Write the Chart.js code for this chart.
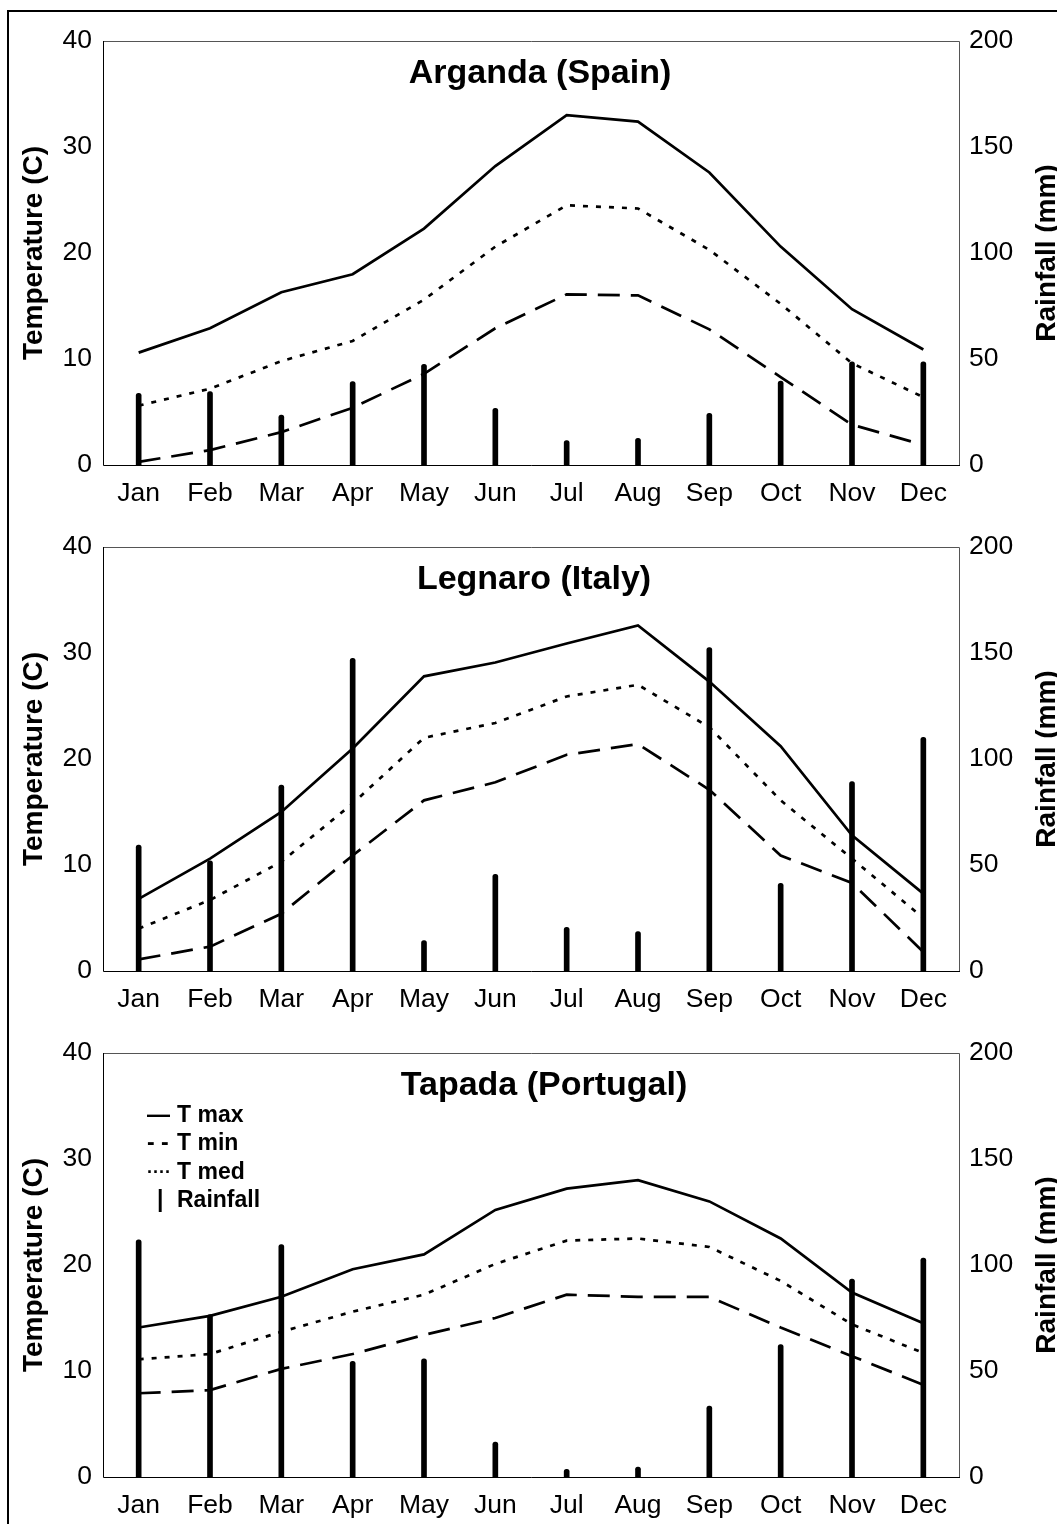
<!DOCTYPE html>
<html>
<head>
<meta charset="utf-8">
<script src="https://cdn.jsdelivr.net/npm/chart.js@4.4.1/dist/chart.umd.min.js"></script>
<style>
html,body{margin:0;padding:0;background:#fff;}
#wrap{position:relative;width:1057px;height:1524px;overflow:hidden;background:#fff;}
#frame{position:absolute;left:7px;top:10px;width:1200px;height:1700px;border:2.5px solid #000;box-sizing:border-box;}
canvas{position:absolute;left:0;}
</style>
</head>
<body>
<div id="wrap">
  <div id="frame"></div>
  <canvas id="c1" width="1057" height="506" style="top:0px"></canvas>
  <canvas id="c2" width="1057" height="506" style="top:506px"></canvas>
  <canvas id="c3" width="1057" height="506" style="top:1012px"></canvas>
</div>
<script>
// ---------- data ----------
const months = ['Jan','Feb','Mar','Apr','May','Jun','Jul','Aug','Sep','Oct','Nov','Dec'];
const tempTicks = [0, 10, 20, 30, 40];
const rainTicks = [0, 50, 100, 150, 200];

const siteNames = ['Arganda (Spain)', 'Legnaro (Italy)', 'Tapada (Portugal)'];

const argandaTmax = [10.6, 12.9, 16.3, 18.0, 22.3, 28.2, 33.0, 32.4, 27.6, 20.6, 14.7, 10.9];
const argandaTmin = [0.3, 1.4, 3.1, 5.4, 8.6, 12.9, 16.1, 16.0, 12.8, 8.3, 3.8, 1.9];
const argandaTmed = [5.6, 7.2, 9.8, 11.7, 15.6, 20.6, 24.5, 24.2, 20.3, 15.2, 9.6, 6.4];
const argandaRain = [33.8, 34.6, 23.6, 39.3, 47.5, 26.7, 11.5, 12.6, 24.4, 39.6, 48.7, 48.7];

const legnaroTmax = [6.8, 10.6, 15.0, 21.0, 27.8, 29.1, 30.9, 32.6, 27.3, 21.2, 12.8, 7.3];
const legnaroTmin = [1.1, 2.3, 5.4, 10.9, 16.1, 17.8, 20.4, 21.4, 17.1, 10.9, 8.3, 1.8];
const legnaroTmed = [4.0, 6.7, 10.3, 15.8, 22.0, 23.4, 25.9, 27.0, 23.0, 16.1, 10.6, 5.0];
const legnaroRain = [59.4, 52.0, 87.7, 147.5, 14.3, 45.6, 20.6, 18.6, 152.5, 41.4, 89.3, 110.2];

const tapadaTmax = [14.1, 15.2, 17.0, 19.6, 21.0, 25.2, 27.2, 28.0, 26.0, 22.5, 17.4, 14.5];
const tapadaTmin = [7.9, 8.2, 10.2, 11.6, 13.4, 15.0, 17.2, 17.0, 17.0, 14.1, 11.4, 8.7];
const tapadaTmed = [11.1, 11.6, 13.7, 15.6, 17.2, 20.1, 22.3, 22.5, 21.7, 18.5, 14.4, 11.7];
const tapadaRain = [111.9, 76.6, 109.6, 54.6, 55.7, 16.5, 3.6, 4.7, 33.4, 62.5, 93.4, 103.3];

const legendSymbols = ['\u2014', '- -', '\u00B7\u00B7\u00B7\u00B7', '|'];
const legendLabels = ['T max', 'T min', 'T med', 'Rainfall'];

// ---------- rendering ----------
const FONT = "'Liberation Sans', Arial, Helvetica, sans-serif";
Chart.defaults.font.family = FONT;
Chart.defaults.color = '#000';

const decor = {
  id: 'decor',
  beforeDatasetsDraw(chart) {
    const {ctx, chartArea: a} = chart;
    ctx.save();
    ctx.lineWidth = 1;
    ctx.strokeStyle = '#555';
    ctx.beginPath();
    ctx.moveTo(a.left, a.top + 0.5);
    ctx.lineTo(a.right + 0.5, a.top + 0.5);
    ctx.lineTo(a.right + 0.5, a.bottom);
    ctx.stroke();
    ctx.strokeStyle = '#000';
    ctx.beginPath();
    ctx.moveTo(a.left + 0.5, a.top);
    ctx.lineTo(a.left + 0.5, a.bottom + 0.5);
    ctx.lineTo(a.right + 1, a.bottom + 0.5);
    ctx.stroke();
    ctx.restore();
  },
  afterDraw(chart, args, opts) {
    const {ctx, chartArea: a} = chart;
    ctx.save();
    ctx.fillStyle = '#000';
    // in-plot title
    ctx.font = 'bold 34px ' + FONT;
    ctx.textAlign = 'center';
    ctx.textBaseline = 'alphabetic';
    ctx.fillText(opts.title, opts.titleX, a.top + 42);
    // right axis title, reading bottom to top
    ctx.save();
    ctx.translate(1055, (a.top + a.bottom) / 2);
    ctx.rotate(-Math.PI / 2);
    ctx.font = 'bold 28px ' + FONT;
    ctx.textAlign = 'center';
    ctx.textBaseline = 'alphabetic';
    ctx.fillText('Rainfall (mm)', 0, 0);
    ctx.restore();
    // legend
    if (opts.legend) {
      const symX = [147, 147, 147, 157];
      const symFont = ['bold 23px ', 'bold 23px ', 'bold 18px ', 'bold 23px '];
      for (let i = 0; i < legendLabels.length; i++) {
        const y = a.top + 69 + i * 28.3;
        ctx.textAlign = 'left';
        ctx.font = symFont[i] + FONT;
        ctx.fillText(legendSymbols[i], symX[i], i === 2 ? y - 1 : y);
        ctx.font = 'bold 23px ' + FONT;
        ctx.fillText(legendLabels[i], 177, y);
      }
    }
    ctx.restore();
  }
};

function makeChart(id, title, titleX, tmax, tmin, tmed, rain, showLegend) {
  return new Chart(document.getElementById(id), {
    type: 'bar',
    data: {
      labels: months,
      datasets: [
        { type: 'line', label: 'T max', data: tmax, yAxisID: 'yT', borderColor: '#000', borderWidth: 2.7,
          pointRadius: 0, fill: false, tension: 0, order: 2 },
        { type: 'line', label: 'T min', data: tmin, yAxisID: 'yT', borderColor: '#000', borderWidth: 2.7,
          borderDash: [22, 11], pointRadius: 0, fill: false, tension: 0, order: 2 },
        { type: 'line', label: 'T med', data: tmed, yAxisID: 'yT', borderColor: '#000', borderWidth: 2.7,
          borderDash: [5, 8], pointRadius: 0, fill: false, tension: 0, order: 2 },
        { type: 'bar', label: 'Rainfall', data: rain, yAxisID: 'yR', backgroundColor: '#000',
          barThickness: 5, borderRadius: {topLeft: 2.5, topRight: 2.5}, borderSkipped: 'start', order: 1 }
      ]
    },
    options: {
      responsive: false,
      animation: false,
      devicePixelRatio: 1,
      layout: { padding: { top: 41, left: 0, right: 0, bottom: 0 } },
      plugins: {
        legend: { display: false },
        tooltip: { enabled: false },
        title: { display: false },
        decor: { title: title, titleX: titleX, legend: showLegend }
      },
      scales: {
        x: {
          type: 'category',
          offset: true,
          grid: { display: false, drawTicks: false },
          border: { display: false },
          ticks: { font: { size: 26.5 }, color: '#000', padding: 13, maxRotation: 0, autoSkip: false },
          afterFit(s) { s.height = 41; }
        },
        yT: {
          position: 'left',
          min: 0, max: 40,
          grid: { display: false, drawTicks: false },
          border: { display: false },
          afterBuildTicks(s) { s.ticks = tempTicks.map(v => ({ value: v })); },
          ticks: { font: { size: 26.5 }, color: '#000', padding: 11 },
          title: { display: true, text: 'Temperature (C)', font: { size: 28, weight: 'bold' }, color: '#000',
                   padding: { top: 17, bottom: 0 } },
          afterFit(s) { s.width = 103; }
        },
        yR: {
          position: 'right',
          min: 0, max: 200,
          grid: { display: false, drawTicks: false },
          border: { display: false },
          afterBuildTicks(s) { s.ticks = rainTicks.map(v => ({ value: v })); },
          ticks: { font: { size: 26.5 }, color: '#000', padding: 10 },
          afterFit(s) { s.width = 98; }
        }
      }
    },
    plugins: [decor]
  });
}

makeChart('c1', siteNames[0], 540, argandaTmax, argandaTmin, argandaTmed, argandaRain, false);
makeChart('c2', siteNames[1], 534, legnaroTmax, legnaroTmin, legnaroTmed, legnaroRain, false);
makeChart('c3', siteNames[2], 544, tapadaTmax, tapadaTmin, tapadaTmed, tapadaRain, true);
</script>
</body>
</html>
